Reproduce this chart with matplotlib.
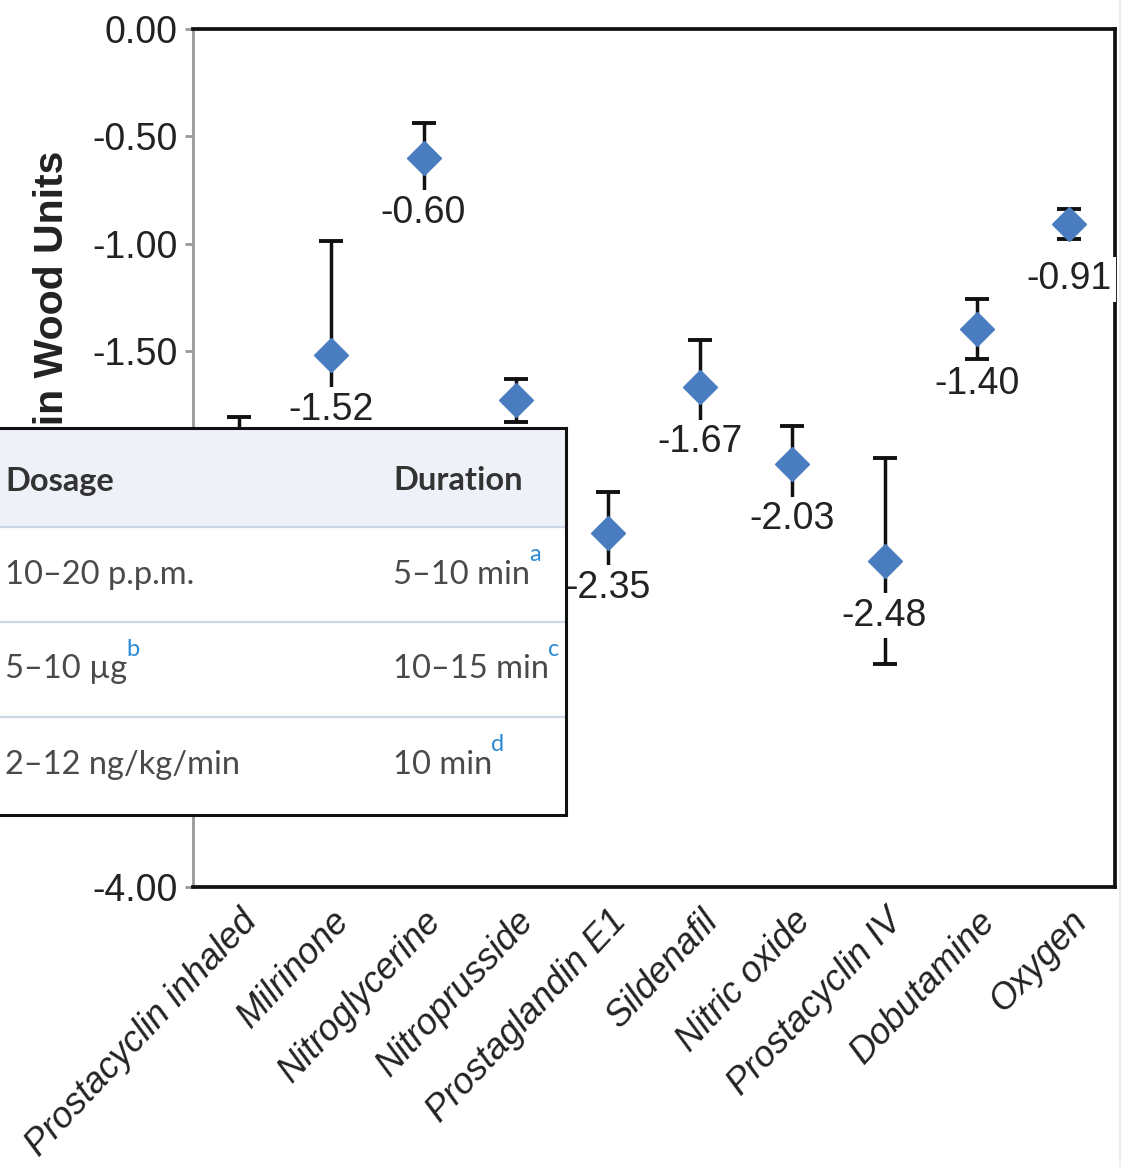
import matplotlib
matplotlib.use("Agg")
import matplotlib.pyplot as plt
from matplotlib.patches import Rectangle
import numpy as np

# --- data -------------------------------------------------------------------
drugs = ["Prostacyclin inhaled", "Milrinone", "Nitroglycerine", "Nitroprusside",
         "Prostaglandin E1", "Sildenafil", "Nitric oxide", "Prostacyclin IV",
         "Dobutamine", "Oxygen"]
mean_change = [-2.15, -1.52, -0.60, -1.73, -2.35, -1.67, -2.03, -2.48, -1.40, -0.91]
error = [0.34, 0.53, 0.16, 0.10, 0.19, 0.22, 0.18, 0.48, 0.14, 0.07]
y_ticks = [0.0, -0.5, -1.0, -1.5, -2.0, -2.5, -3.0, -3.5, -4.0]

table_header = ["Dosage", "Duration"]
dosage = ["10\u201320 p.p.m.", "5\u201310 \u00b5g", "2\u201312 ng/kg/min"]
dosage_notes = ["", "b", ""]
duration = ["5\u201310 min", "10\u201315 min", "10 min"]
duration_notes = ["a", "c", "d"]

# --- figure -----------------------------------------------------------------
W, H, DPI = 1127, 1167, 100
fig = plt.figure(figsize=(W / DPI, H / DPI), dpi=DPI)
fig.patch.set_facecolor("white")

ax = fig.add_axes([193 / W, 1 - 887 / H, (1115 - 193) / W, (887 - 29) / H])
x = np.arange(len(drugs))

ax.errorbar(x, mean_change, yerr=error, fmt="none", ecolor="#111111",
            elinewidth=2.5, capsize=8.5, capthick=2.8, zorder=3)
ax.plot(x, mean_change, linestyle="none", marker="D", markersize=17.5,
        color="#4a7dbf", markeredgecolor="#4a7dbf", zorder=6)

for xi, v in zip(x, mean_change):
    ax.annotate(f"{v:.2f}", (xi, v), xytext=(0, -39.5), textcoords="offset points",
                ha="center", va="center", fontsize=27, color="#222222",
                family="Liberation Sans", annotation_clip=False, zorder=5,
                bbox=dict(boxstyle="square,pad=0.12", fc="white", ec="none"))

ax.set_xlim(-0.5, len(drugs) - 0.5)
ax.set_ylim(-4.0, 0.0)
ax.set_yticks(y_ticks)
ax.set_yticklabels([f"{t:.2f}" for t in y_ticks], fontsize=27,
                   family="Liberation Sans", color="#222222")
ax.tick_params(axis="y", length=6, width=2, color="#999999", pad=5)
ax.set_xticks(x)
ax.set_xticklabels(drugs, rotation=47, ha="right", rotation_mode="anchor",
                   fontsize=26, style="italic", family="Liberation Sans",
                   color="#222222")
ax.tick_params(axis="x", length=0, pad=12)

for side in ["top", "right", "bottom"]:
    ax.spines[side].set_color("#111111")
    ax.spines[side].set_linewidth(2.7)
ax.spines["left"].set_color("#999999")
ax.spines["left"].set_linewidth(2.0)

fig.text(52 / W, 1 - 151 / H, "Change in PVR in Wood Units", rotation=90,
         ha="center", va="top", fontsize=29.5, fontweight="bold",
         family="Liberation Sans", color="#222222")

# faint frame line along the right edge of the image
fig.add_artist(plt.Line2D([1119.5 / W, 1119.5 / W], [0, 1], color="#ececec",
                          lw=1.5, transform=fig.transFigure))

# --- dosage table panel -------------------------------------------------------
tab = fig.add_axes([0, 0, 1, 1], zorder=10)
tab.set_xlim(0, W)
tab.set_ylim(H, 0)
tab.axis("off")
tab.patch.set_alpha(0)

top, bottom, right = 428, 815, 566
header_bottom = 527
row_h = 95
tab.add_patch(Rectangle((-5, top), right + 5, bottom - top, fc="white",
                        ec="none", zorder=1))
tab.add_patch(Rectangle((-5, top), right + 5, header_bottom - top, fc="#eef2f8",
                        ec="none", zorder=2))
for i in range(3):
    yl = header_bottom + i * row_h
    tab.plot([-5, right], [yl, yl], color="#cdd6e6", lw=1.6, zorder=3)
tab.add_patch(Rectangle((-5, top), right + 5, bottom - top, fc="none",
                        ec="#111111", lw=2.2, zorder=4))

col_x = [5, 393]
tfont = "Lato"
for cx, head in zip(col_x, table_header):
    tab.text(cx, 481, head, ha="left", va="center", fontsize=23.5,
             fontweight="bold", family=tfont, color="#333333", zorder=5)

fig.canvas.draw()
renderer = fig.canvas.get_renderer()
inv = tab.transData.inverted()

def cell(xp, yp, txt, note):
    t = tab.text(xp, yp, txt, ha="left", va="center", fontsize=23.5,
                 family=tfont, color="#4a4a4a", zorder=5)
    if note:
        bb = t.get_window_extent(renderer)
        x_end = inv.transform((bb.x1, bb.y1))[0]
        tab.text(x_end - 1, yp - 20, note, ha="left", va="center", fontsize=17,
                 family=tfont, color="#2b8ad4", zorder=5)

for i in range(3):
    yc = header_bottom + row_h * (i + 0.5)
    cell(col_x[0], yc, dosage[i], dosage_notes[i])
    cell(col_x[1], yc, duration[i], duration_notes[i])

fig.savefig("out.png", dpi=DPI)
